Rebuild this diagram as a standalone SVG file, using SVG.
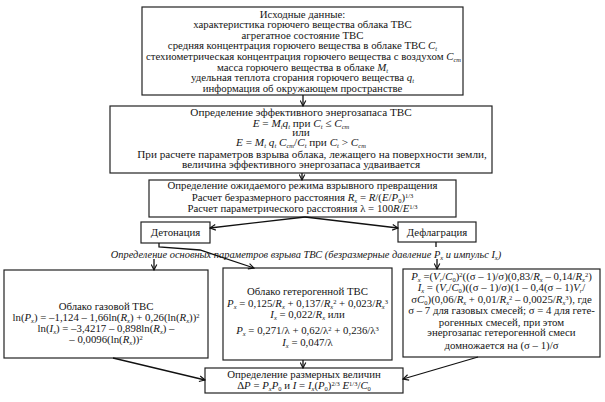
<svg xmlns="http://www.w3.org/2000/svg" width="605" height="402" viewBox="0 0 605 402">
<defs>
<style>
text{font-family:"Liberation Serif","Times New Roman",serif;font-size:10.8px;fill:#151515;}
.c{text-anchor:middle;}
.i{font-style:italic;}
.s{font-size:6.5px;baseline-shift:-1.5px;font-style:italic;}
.s0{font-size:6.5px;baseline-shift:-1.5px;}
.p{font-size:6.5px;baseline-shift:3px;}
.big{font-size:11.2px;}
.lab{font-size:10.4px;font-style:italic;}
.box{fill:#fff;stroke:#222;stroke-width:1.2;}
.ln{fill:none;stroke:#111;stroke-width:1.3;}
</style>
<marker id="ah" viewBox="0 0 10 10" refX="9" refY="5" markerWidth="7" markerHeight="7" orient="auto" markerUnits="userSpaceOnUse">
<path d="M1,1 L9,5 L1,9" fill="none" stroke="#111" stroke-width="1.6"/>
</marker>
</defs>
<rect width="605" height="402" fill="#fff"/>

<g id="n-input">
<rect class="box" x="142" y="7" width="321" height="88"/>
<text class="c" x="302.5" y="18">Исходные данные:</text>
<text class="c" x="302.5" y="28">характеристика горючего вещества облака ТВС</text>
<text class="c" x="302.5" y="38.5">агрегатное состояние ТВС</text>
<text class="c" x="302.5" y="49">средняя концентрация горючего вещества в облаке ТВС  <tspan class="i">C</tspan><tspan class="s">t</tspan></text>
<text class="c" x="303.5" y="60">стехиометрическая концентрация горючего вещества с воздухом <tspan class="i">C</tspan><tspan class="s">ст</tspan></text>
<text class="c" x="302.5" y="70.5">масса горючего вещества в облаке <tspan class="i">M</tspan><tspan class="s">t</tspan></text>
<text class="c" x="302.5" y="81">удельная теплота сгорания горючего вещества <tspan class="i">q</tspan><tspan class="s">t</tspan></text>
<text class="c" x="302.5" y="91.5">информация об окружающем пространстве</text>
</g>

<g id="n-energy">
<rect class="box" x="110" y="106" width="382" height="67"/>
<text class="c big" x="301" y="115.5">Определение эффективного энергозапаса ТВС</text>
<text class="c big" x="301" y="126.5"><tspan class="i">E</tspan> = <tspan class="i">M</tspan><tspan class="s">t</tspan><tspan class="i">q</tspan><tspan class="s">t</tspan> при <tspan class="i">C</tspan><tspan class="s">t</tspan> ≤ <tspan class="i">C</tspan><tspan class="s">ст</tspan></text>
<text class="c big" x="301" y="135.5">или</text>
<text class="c big" x="301" y="145.5"><tspan class="i">E</tspan> = <tspan class="i">M</tspan><tspan class="s">t</tspan> <tspan class="i">q</tspan><tspan class="s">t</tspan> <tspan class="i">C</tspan><tspan class="s">ст</tspan>/<tspan class="i">C</tspan><tspan class="s">t</tspan> при <tspan class="i">C</tspan><tspan class="s">t</tspan> &gt; <tspan class="i">C</tspan><tspan class="s">ст</tspan></text>
<text class="c big" x="312" y="157.5">При расчете параметров взрыва облака, лежащего на поверхности земли,</text>
<text class="c big" x="301" y="167.5">величина эффективного энергозапаса удваивается</text>
</g>

<g id="n-mode">
<rect class="box" x="149" y="180" width="307" height="37"/>
<text class="c" x="302.5" y="189">Определение ожидаемого режима взрывного превращения</text>
<text class="c" x="302.5" y="200.5">Расчет безразмерного расстояния <tspan class="i">R</tspan><tspan class="s">x</tspan> = <tspan class="i">R</tspan>/(<tspan class="i">E</tspan>/<tspan class="i">P</tspan><tspan class="s0">0</tspan>)<tspan class="p">1/3</tspan></text>
<text class="c" x="302.5" y="211.5">Расчет параметрического расстояния λ = 100<tspan class="i">R</tspan>/<tspan class="i">E</tspan><tspan class="p">1/3</tspan></text>
</g>

<g id="n-deton">
<rect class="box" x="141" y="222" width="69" height="21"/>
<text class="c" x="175.5" y="235.5">Детонация</text>
</g>

<g id="n-deflag">
<rect class="box" x="398" y="222" width="78" height="20"/>
<text class="c" x="437" y="235.5">Дефлаграция</text>
</g>

<g id="n-params-label">
<text class="c lab" x="306" y="257.5">Определение основных параметров взрыва ТВС (безразмерные давление <tspan>P</tspan><tspan class="s">x</tspan> и импульс <tspan>I</tspan><tspan class="s">x</tspan>)</text>
</g>

<g id="n-gas">
<rect class="box" x="4" y="270" width="204" height="88"/>
<text class="c" x="106" y="309.5">Облако газовой ТВС</text>
<text class="c" x="106" y="320.5">ln(<tspan class="i">P</tspan><tspan class="s">x</tspan>) = –1,124 – 1,66ln(<tspan class="i">R</tspan><tspan class="s">x</tspan>) + 0,26(ln(<tspan class="i">R</tspan><tspan class="s">x</tspan>))<tspan class="p">2</tspan></text>
<text class="c" x="106" y="331.5">ln(<tspan class="i">I</tspan><tspan class="s">x</tspan>) = –3,4217 – 0,898ln(<tspan class="i">R</tspan><tspan class="s">x</tspan>) –</text>
<text class="c" x="106" y="342.5">– 0,0096(ln(<tspan class="i">R</tspan><tspan class="s">x</tspan>))<tspan class="p">2</tspan></text>
</g>

<g id="n-hetero">
<rect class="box" x="223" y="268" width="169" height="92"/>
<text class="c" x="307.5" y="295">Облако гетерогенной ТВС</text>
<text class="c" x="307.5" y="307"><tspan class="i">P</tspan><tspan class="s">x</tspan> = 0,125/<tspan class="i">R</tspan><tspan class="s">x</tspan> + 0,137/<tspan class="i">R</tspan><tspan class="s">x</tspan><tspan class="p">2</tspan> + 0,023/<tspan class="i">R</tspan><tspan class="s">x</tspan><tspan class="p">3</tspan></text>
<text class="c" x="307.5" y="317.5"><tspan class="i">I</tspan><tspan class="s">x</tspan> = 0,022/<tspan class="i">R</tspan><tspan class="s">x</tspan> или</text>
<text class="c" x="307.5" y="333.5"><tspan class="i">P</tspan><tspan class="s">x</tspan> = 0,271/λ + 0,62/λ<tspan class="p">2</tspan> + 0,236/λ<tspan class="p">3</tspan></text>
<text class="c" x="307.5" y="345.5"><tspan class="i">I</tspan><tspan class="s">x</tspan> = 0,047/λ</text>
</g>

<g id="n-deflcalc">
<rect class="box" x="403" y="269" width="197" height="88"/>
<text class="c" x="501.5" y="279.5"><tspan class="i">P</tspan><tspan class="s">x</tspan> =(<tspan class="i">V</tspan><tspan class="s">r</tspan>/<tspan class="i">C</tspan><tspan class="s0">0</tspan>)<tspan class="p">2</tspan>((σ – 1)/σ)(0,83/<tspan class="i">R</tspan><tspan class="s">x</tspan> – 0,14/<tspan class="i">R</tspan><tspan class="s">x</tspan><tspan class="p">2</tspan>)</text>
<text class="c" x="501.5" y="291"><tspan class="i">I</tspan><tspan class="s">x</tspan> = (<tspan class="i">V</tspan><tspan class="s">r</tspan>/<tspan class="i">C</tspan><tspan class="s0">0</tspan>)((σ – 1)/σ)(1 – 0,4(σ – 1)<tspan class="i">V</tspan><tspan class="s">r</tspan>/</text>
<text class="c" x="501.5" y="302.5">σ<tspan class="i">C</tspan><tspan class="s0">0</tspan>)(0,06/<tspan class="i">R</tspan><tspan class="s">x</tspan> + 0,01/<tspan class="i">R</tspan><tspan class="s">x</tspan><tspan class="p">2</tspan> – 0,0025/<tspan class="i">R</tspan><tspan class="s">x</tspan><tspan class="p">3</tspan>), где</text>
<text class="c" x="501.5" y="314">σ – 7 для газовых смесей; σ = 4 для гете-</text>
<text class="c" x="501.5" y="325.5">рогенных смесей, при этом</text>
<text class="c" x="501.5" y="336">энергозапас гетерогенной смеси</text>
<text class="c" x="501.5" y="348.5">домножается на (σ – 1)/σ</text>
</g>

<g id="n-final">
<rect class="box" x="205" y="368" width="198" height="25"/>
<text class="c" x="304" y="377.5">Определение размерных величин</text>
<text class="c" x="304" y="388.5">Δ<tspan class="i">P</tspan> = <tspan class="i">P</tspan><tspan class="s">x</tspan><tspan class="i">P</tspan><tspan class="s0">0</tspan> и <tspan class="i">I</tspan> = <tspan class="i">I</tspan><tspan class="s">x</tspan>(<tspan class="i">P</tspan><tspan class="s0">0</tspan>)<tspan class="p">2/3</tspan> <tspan class="i">E</tspan><tspan class="p">1/3</tspan>/<tspan class="i">C</tspan><tspan class="s0">0</tspan></text>
</g>

<g id="connectors">
<path class="ln" d="M303,95 L303,106" marker-end="url(#ah)"/>
<path class="ln" d="M302,173 L302,180" marker-end="url(#ah)"/>
<path class="ln" d="M305,217 L210,228" marker-end="url(#ah)"/>
<path class="ln" d="M305,217 L398,228" marker-end="url(#ah)"/>
<path class="ln" d="M159,243 L159,247 L200,250 L254,268" marker-end="url(#ah)"/>
<path class="ln" d="M154,259 L154,270" marker-end="url(#ah)"/>
<path class="ln" d="M436,242 L436,247"/>
<path class="ln" d="M437,259 L437,269" marker-end="url(#ah)"/>
<path class="ln" d="M303,360 L303,368" marker-end="url(#ah)"/>
<path class="ln" d="M113,358 L205,380" marker-end="url(#ah)"/>
<path class="ln" d="M478,357 L403,379" marker-end="url(#ah)"/>
</g>
</svg>
